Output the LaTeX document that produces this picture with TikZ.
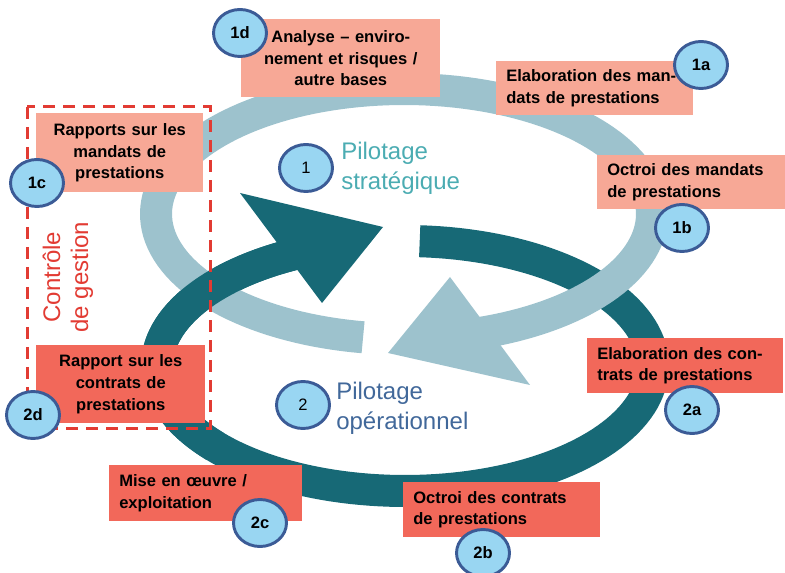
\documentclass[tikz,border=0pt]{standalone}
\usepackage{fontspec}
\setmainfont{Liberation Sans}
\usetikzlibrary{positioning,shapes.geometric}
\definecolor{RingLight}{HTML}{9DC2CD}
\definecolor{RingDark}{HTML}{176976}
\definecolor{Mandat}{HTML}{F7A896}
\definecolor{Contrat}{HTML}{F2685A}
\definecolor{BadgeFill}{HTML}{99D6F2}
\definecolor{BadgeLine}{HTML}{3B5B96}
\definecolor{Strat}{HTML}{4BACB2}
\definecolor{Oper}{HTML}{41689A}
\definecolor{Ctrl}{HTML}{E23B33}

\begin{document}
\begin{tikzpicture}[x=0.75pt,y=-0.75pt,
    ring/.style={line width=24pt},
    task/.style={anchor=north west,inner xsep=7.5pt,inner ysep=0pt,align=left,
      font=\bfseries\fontsize{12.4}{16.3}\selectfont},
    badge/.style={ellipse,draw=BadgeLine,line width=2.2pt,fill=BadgeFill,
      minimum width=39.75pt,minimum height=35.25pt,inner sep=0pt,
      font=\bfseries\fontsize{12.4}{14}\selectfont},
    phase/.style={anchor=west,inner sep=0pt,align=left,font=\fontsize{18}{22.5}\selectfont}]
  \useasboundingbox (0,0) rectangle (785,573);
  % operational cycle below, strategic cycle over it
  \draw[ring,RingDark] plot[domain=273.4:605,samples=150,variable=\t]
    ({405+248*cos(\t)},{366+125*sin(\t)});
  \draw[ring,RingLight] plot[domain=99.5:435,samples=150,variable=\t]
    ({404+248*cos(\t)},{214+125*sin(\t)});
  \fill[RingLight] (450,277) -- (530,385) -- (388,353) -- cycle;
  % dark ring crosses back over on the left
  \draw[ring,RingDark] plot[domain=500:605,samples=50,variable=\t]
    ({405+248*cos(\t)},{366+125*sin(\t)});
  \fill[RingDark] (240,193) -- (322,303) -- (383,227) -- cycle;

  \draw[Ctrl,line width=2.25pt,dash pattern=on 9pt off 6pt] (27,107) rectangle (210,428);
  \node[rotate=90,align=center,inner sep=0pt,text=Ctrl,font=\fontsize{18}{21}\selectfont] (ctrl)
    at (68,277) {Contrôle\\de gestion};

  \node[task,fill=Mandat,text width=134.25pt,minimum height=58.5pt,align=center] (ana) at (241,19)
    {Analyse – enviro-\\nement et risques /\\autre bases};
  \node[task,fill=Mandat,text width=132.75pt,minimum height=40.5pt] (elabM) at (496,61)
    {Elaboration des man-\\dats de prestations};
  \node[task,fill=Mandat,text width=126pt,minimum height=40.5pt] (octM) at (597,155)
    {Octroi des mandats\\de prestations};
  \node[task,fill=Mandat,text width=110.25pt,minimum height=59.25pt,align=center] (rapM) at (36,113)
    {Rapports sur les\\mandats de\\prestations};
  \node[task,fill=Contrat,text width=132pt,minimum height=41.25pt] (elabC) at (587,338)
    {Elaboration des con-\\trats de prestations};
  \node[task,fill=Contrat,text width=132.75pt,minimum height=41.25pt] (octC) at (403,482)
    {Octroi des contrats\\de prestations};
  \node[task,fill=Contrat,text width=129.75pt,minimum height=42pt] (mise) at (109,465)
    {Mise en œuvre /\\exploitation};
  \node[task,fill=Contrat,text width=111.75pt,minimum height=58.5pt,align=center] (rapC) at (36,345)
    {Rapport sur les\\contrats de\\prestations};

  \node[badge] (b1d) at (240,33) {1d};
  \node[badge] (b1a) at (701,65) {1a};
  \node[badge] (b1b) at (682,228) {1b};
  \node[badge] (b1c) at (37,183) {1c};
  \node[badge] (b2a) at (692,410) {2a};
  \node[badge] (b2b) at (483,553) {2b};
  \node[badge] (b2c) at (260,523) {2c};
  \node[badge] (b2d) at (33,415) {2d};
  \node[badge,font=\fontsize{12.4}{14}\selectfont] (b1) at (306,168) {1};
  \node[badge,font=\fontsize{12.4}{14}\selectfont] (b2) at (303,405) {2};

  \node[phase,text=Strat] (strat) at (341,168) {Pilotage\\stratégique};
  \node[phase,text=Oper] (oper) at (336,408) {Pilotage\\opérationnel};
\end{tikzpicture}
\end{document}
